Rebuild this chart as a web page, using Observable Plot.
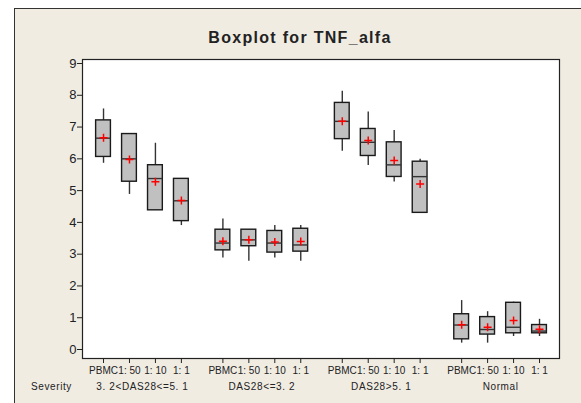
<!DOCTYPE html>
<html>
<head>
<meta charset="utf-8">
<script src="https://cdn.jsdelivr.net/npm/d3@7"></script>
<script src="https://cdn.jsdelivr.net/npm/@observablehq/plot@0.6"></script>
<style>
  html, body { margin: 0; padding: 0; background: #ffffff; width: 581px; height: 403px; overflow: hidden; }
  #bg { position: absolute; left: 14px; top: 8px; width: 600px; height: 420px; background: #f0ece2;
        border-left: 1.5px solid #333; border-top: 1.5px solid #333; }
  #chart { position: absolute; left: 0; top: 0; }
</style>
</head>
<body>
<div id="bg"></div>
<div id="chart"></div>
<script>
const groups = ["3. 2<DAS28<=5. 1", "DAS28<=3. 2", "DAS28>5. 1", "Normal"];
const conditions = ["PBMC", "1: 50", "1: 10", "1: 1"];
// 16 boxes: group-major order (group 1: PBMC,1:50,1:10,1:1; group 2 ...)
const whiskerLow  = [5.86, 4.88, 4.38, 3.90,  2.88, 2.78, 2.88, 2.78,  6.24, 5.79, 5.27, 4.30,  0.20, 0.20, 0.41, 0.41];
const q1          = [6.06, 5.28, 4.38, 4.04,  3.12, 3.25, 3.05, 3.08,  6.62, 6.09, 5.43, 4.30,  0.32, 0.47, 0.51, 0.51];
const median      = [6.65, 6.00, 5.38, 4.68,  3.35, 3.45, 3.35, 3.29,  7.18, 6.52, 5.81, 5.44,  0.77, 0.63, 0.70, 0.58];
const q3          = [7.21, 6.78, 5.80, 5.37,  3.77, 3.77, 3.73, 3.80,  7.76, 6.94, 6.52, 5.91,  1.11, 1.02, 1.47, 0.77];
const whiskerHigh = [7.57, 6.78, 6.49, 5.37,  4.11, 3.77, 3.90, 3.90,  8.13, 7.47, 6.89, 5.99,  1.54, 1.19, 1.49, 0.95];
const mean        = [6.66, 5.98, 5.28, 4.69,  3.41, 3.45, 3.38, 3.40,  7.18, 6.58, 5.95, 5.21,  0.78, 0.70, 0.91, 0.64];
const yTicks = [0, 1, 2, 3, 4, 5, 6, 7, 8, 9];
const title = "Boxplot for TNF_alfa";
const severityLabel = "Severity";

const groupStep = 4.6; // slots between group starts
const halfBox = 0.285;

const data = [];
groups.forEach((g, gi) => {
  conditions.forEach((c, ci) => {
    const k = gi * conditions.length + ci;
    data.push({
      group: g, cond: c, pos: gi * groupStep + ci,
      lo: whiskerLow[k], q1: q1[k], med: median[k], q3: q3[k], hi: whiskerHigh[k], mean: mean[k]
    });
  });
});
const groupCenters = groups.map((g, gi) => ({group: g, pos: gi * groupStep + (conditions.length - 1) / 2}));
const tickLabel = new Map(data.map(d => [d.pos, d.cond]));

const plusSymbol = {
  draw(ctx, size) {
    const r = Math.sqrt(size / Math.PI);
    ctx.moveTo(-r, 0); ctx.lineTo(r, 0);
    ctx.moveTo(0, -r); ctx.lineTo(0, r);
  }
};

const chart = Plot.plot({
  width: 581,
  height: 403,
  marginLeft: 82,
  marginRight: 22,
  marginTop: 59,
  marginBottom: 45,
  style: {background: "transparent", fontFamily: "'Liberation Sans', Arial, sans-serif", color: "#222"},
  x: {type: "linear", domain: [-0.81, 17.57]},
  y: {domain: [-0.283, 9.126]},
  marks: [
    Plot.frame({fill: "white", stroke: "#222", strokeWidth: 1.2}),
    Plot.ruleX(data, {x: "pos", y1: "lo", y2: "hi", stroke: "#333", strokeWidth: 1.4}),
    Plot.rect(data, {x1: d => d.pos - halfBox, x2: d => d.pos + halfBox, y1: "q1", y2: "q3",
      fill: "#c0c0c0", stroke: "#1a1a1a", strokeWidth: 1.4}),
    Plot.ruleY(data, {y: "med", x1: d => d.pos - halfBox, x2: d => d.pos + halfBox, stroke: "#333", strokeWidth: 1.4}),
    Plot.dot(data, {x: "pos", y: "mean", symbol: plusSymbol, r: 4, fill: "none", stroke: "#ff0000", strokeWidth: 1.5}),
    Plot.axisY({ticks: yTicks, tickSize: 5, tickPadding: 1, fontSize: 13, label: null}),
    Plot.axisX({ticks: data.map(d => d.pos), tickFormat: d => tickLabel.get(d), tickSize: 5, tickPadding: 3, fontSize: 10, label: null}),
    Plot.text(groupCenters, {x: "pos", text: "group", frameAnchor: "bottom", dy: 28, fontSize: 10, lineAnchor: "middle"}),
    Plot.text([severityLabel], {text: d => d, frameAnchor: "bottom-left", dx: -31, dy: 28, textAnchor: "middle", fontSize: 10, lineAnchor: "middle"}),
    Plot.text([title], {text: d => d, frameAnchor: "top", dx: -21, dy: -22, fontSize: 16, fontWeight: "bold", lineAnchor: "middle"})
  ]
});
d3.select(chart).selectAll("text").filter(function() { return this.textContent === title; })
  .attr("letter-spacing", "1.3");
d3.select(chart).selectAll("text").filter(function() { return this.textContent === severityLabel || groups.includes(this.textContent); })
  .attr("letter-spacing", "0.6");
document.getElementById("chart").appendChild(chart);
</script>
</body>
</html>
